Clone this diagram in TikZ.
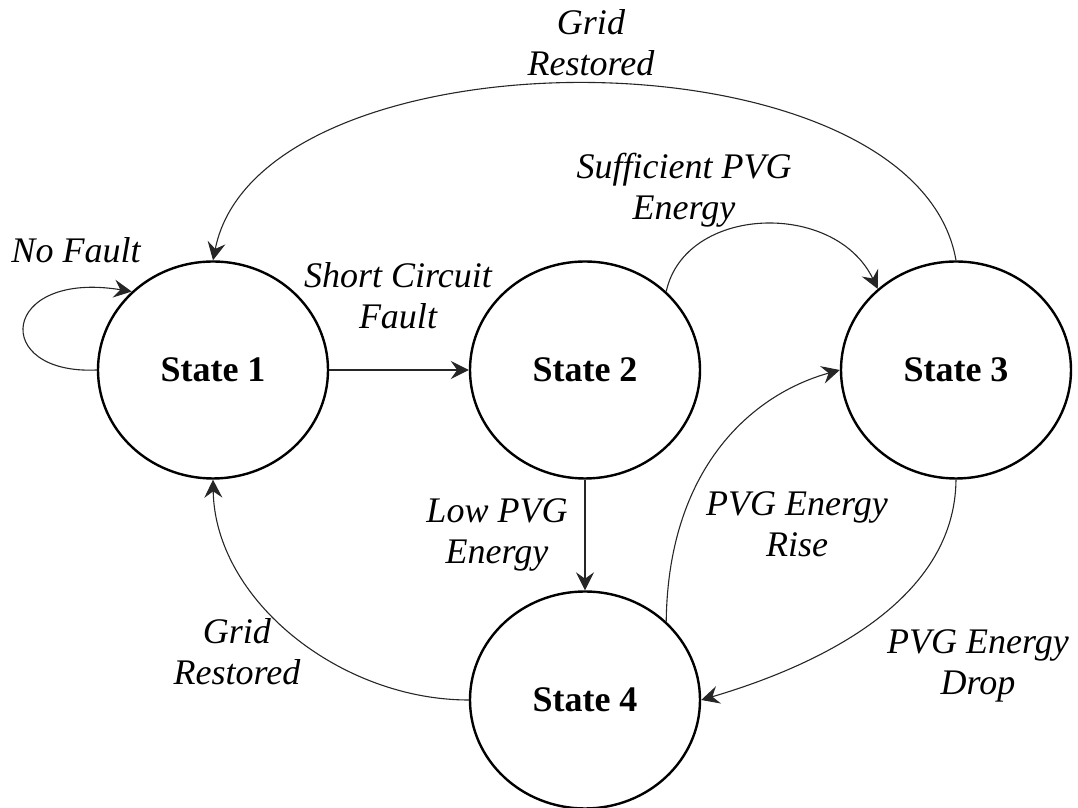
\documentclass[tikz,border=0pt]{standalone}
\usepackage{fontspec}
\setmainfont{Liberation Serif}
\usetikzlibrary{shapes.geometric,arrows.meta}

\begin{document}
\begin{tikzpicture}[x=0.5pt,y=0.5pt,
  statenode/.style={draw=black, line width=1.2pt, ellipse, inner sep=0pt,
    minimum width=115pt, minimum height=108.5pt,
    font=\fontsize{18}{20.5}\selectfont\bfseries},
  edgelabel/.style={align=center, inner sep=0pt,
    font=\fontsize{18}{20.5}\selectfont\itshape},
  trans/.style={draw=black!85, line width=0.55pt,
    -{Stealth[length=9pt,width=9pt,inset=3.2pt]}}
]
\useasboundingbox (0,0) rectangle (1078,808);

% states
\node[statenode] (s1) at (213,438) {State 1};
\node[statenode] (s2) at (585,438) {State 2};
\node[statenode] (s3) at (956,438) {State 3};
\node[statenode] (s4) at (585,108) {State 4};

% transition labels
\node[edgelabel] (lnofault) at (76,558)  {No Fault};
\node[edgelabel] (lshort)   at (398,512) {Short Circuit\\Fault};
\node[edgelabel] (lgridtop) at (591,765) {Grid\\Restored};
\node[edgelabel] (lsuff)    at (684,618) {Sufficient PVG\\Energy};
\node[edgelabel] (llow)     at (497,273) {Low PVG\\Energy};
\node[edgelabel] (lrise)    at (797,284) {PVG Energy\\Rise};
\node[edgelabel] (ldrop)    at (978,142) {PVG Energy\\Drop};
\node[edgelabel] (lgridbl)  at (237,156) {Grid\\Restored};

% transitions
\draw[trans] (s1.west) .. controls (-10,433) and (0,538) .. (s1.136);
\draw[trans] (s1.east) -- (s2.west);
\draw[trans] (s3.north) .. controls (915,783) and (260,783) .. (s1.north);
\draw[trans] (s2.44) .. controls (685,603) and (835,608) .. (s3.134);
\draw[trans] (s2.south) -- (s4.north);
\draw[trans] (s4.44) .. controls (668,338) and (750,413) .. (s3.west);
\draw[trans] (s3.south) .. controls (955,208) and (820,143) .. (s4.east);
\draw[trans] (s4.west) .. controls (340,108) and (215,208) .. (s1.south);
\end{tikzpicture}
\end{document}
